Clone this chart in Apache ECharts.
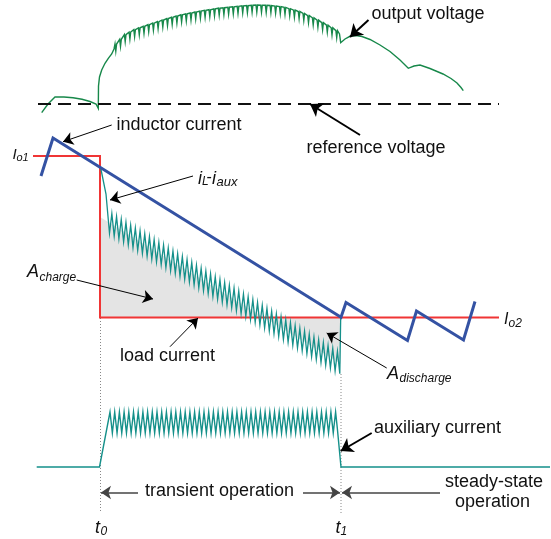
<!DOCTYPE html>
<html>
<head>
<meta charset="utf-8">
<script src="https://cdn.jsdelivr.net/npm/echarts/dist/echarts.min.js"></script>
<style>
html,body{margin:0;padding:0;background:#fff;}
#c{width:551px;height:539px;}
</style>
</head>
<body>
<div id="c"></div>
<script>
// ---- signal data (schematic units) ----
const outputVoltage = [
  [41.7,112.7],[48,104],[55,97],[64,97],[73,97.8],[82,99.3],[90,101.5],[96,104],[98.3,108.5],
  [98.5,86],[99.5,77],[101.7,70],[105,63.3],[108.3,58.3],[111.7,54],[114,49],
  [115,44],[115.8,51],[116.6,44],
  [119.7,39.3],[120.5,46.3],[121.3,39.3],
  [124.4,34.6],[125.2,41.6],[126.0,34.6],
  [129.1,32.0],[129.9,39.0],[130.7,32.0],
  [133.8,29.6],[134.6,36.6],[135.4,29.6],
  [138.5,27.8],[139.3,34.8],[140.1,27.8],
  [143.2,26.3],[144.0,33.3],[144.8,26.3],
  [147.9,24.7],[148.7,31.7],[149.5,24.7],
  [152.6,23.1],[153.4,30.1],[154.2,23.1],
  [157.3,21.6],[158.1,28.6],[158.9,21.6],
  [162.0,20.0],[162.8,27.0],[163.6,20.0],
  [166.7,18.5],[167.5,25.5],[168.3,18.5],
  [171.4,17.3],[172.2,24.3],[173.0,17.3],
  [176.1,16.0],[176.9,23.0],[177.7,16.0],
  [180.8,14.8],[181.6,21.8],[182.4,14.8],
  [185.5,13.9],[186.3,20.9],[187.1,13.9],
  [190.2,13.0],[191.0,20.0],[191.8,13.0],
  [194.9,12.0],[195.7,19.0],[196.5,12.0],
  [199.6,11.1],[200.4,18.1],[201.2,11.1],
  [204.3,10.4],[205.1,17.4],[205.9,10.4],
  [209.0,9.7],[209.8,16.7],[210.6,9.7],
  [213.7,8.9],[214.5,15.9],[215.3,8.9],
  [218.4,8.2],[219.2,15.2],[220.0,8.2],
  [223.1,7.7],[223.9,14.7],[224.7,7.7],
  [227.8,7.2],[228.6,14.2],[229.4,7.2],
  [232.5,6.8],[233.3,13.8],[234.1,6.8],
  [237.2,6.3],[238.0,13.3],[238.8,6.3],
  [241.9,5.9],[242.7,12.9],[243.5,5.9],
  [246.6,5.6],[247.4,12.6],[248.2,5.6],
  [251.3,5.2],[252.1,12.2],[252.9,5.2],
  [256.0,5.0],[256.8,12.0],[257.6,5.0],
  [260.7,5.2],[261.5,12.2],[262.3,5.2],
  [265.4,5.3],[266.2,12.3],[267.0,5.3],
  [270.1,5.5],[270.9,12.5],[271.7,5.5],
  [274.8,6.1],[275.6,13.1],[276.4,6.1],
  [279.5,6.6],[280.3,13.6],[281.1,6.6],
  [284.2,7.4],[285.0,14.4],[285.8,7.4],
  [288.9,8.7],[289.7,15.7],[290.5,8.7],
  [293.6,10.1],[294.4,17.1],[295.2,10.1],
  [298.3,11.5],[299.1,18.5],[299.9,11.5],
  [303.0,13.4],[303.8,20.4],[304.6,13.4],
  [307.7,15.6],[308.5,22.6],[309.3,15.6],
  [312.4,17.8],[313.2,24.8],[314.0,17.8],
  [317.1,20.1],[317.9,27.1],[318.7,20.1],
  [321.8,22.6],[322.6,29.6],[323.4,22.6],
  [326.5,25.1],[327.3,32.1],[328.1,25.1],
  [331.2,27.8],[332.0,34.8],[332.8,27.8],
  [335.9,30.7],[336.7,37.7],[337.5,30.7],
  [339.5,34],[340.7,42.7],
  [345,39],[350,36.3],[356,35.5],[362,36.5],[370,39.5],[380,45],[390,51.5],[400,60],
  [408.3,68.3],[414,66],[420,65],[430,68.5],[443,74],[451,78.5],[457,83],[461,87.5],[463.3,90.7]
];
const referenceVoltage = [[38,104],[499,104]];
const inductorCurrent = [[41,176],[53,138],[341,317.3],[346,302.5],[407.5,340.5],[416.5,311],[463.5,340],[475,301.5]];
const loadCurrent = [[33,156],[100,156],[100,317.5],[499,317.5]];
const iLminusAux = [
  [100.5,167],[106,194],
  [109.5,233.3],[111.85,213.7],[114.2,236.2],[116.55,216.6],[118.9,239.0],[121.25,219.4],
  [123.6,241.9],[125.95,222.3],[128.3,244.8],[130.65,225.2],[133.0,247.6],[135.35,228.0],
  [137.7,250.5],[140.05,230.9],[142.4,253.4],[144.75,233.8],[147.1,256.2],[149.45,236.6],
  [151.8,259.1],[154.15,239.5],[156.5,262.0],[158.85,242.4],[161.2,264.8],[163.55,245.2],
  [165.9,267.7],[168.25,248.1],[170.6,270.6],[172.95,251.0],[175.3,273.4],[177.65,253.8],
  [180.0,276.3],[182.35,256.7],[184.7,279.2],[187.05,259.6],[189.4,282.0],[191.75,262.4],
  [194.1,284.9],[196.45,265.3],[198.8,287.8],[201.15,268.2],[203.5,290.6],[205.85,271.0],
  [208.2,293.5],[210.55,273.9],[212.9,296.4],[215.25,276.8],[217.6,299.2],[219.95,279.6],
  [222.3,302.1],[224.65,282.5],[227.0,305.0],[229.35,285.4],[231.7,307.8],[234.05,288.2],
  [236.4,310.7],[238.75,291.1],[241.1,313.6],[243.45,294.0],[245.8,316.4],[248.15,296.8],
  [250.5,319.3],[252.85,299.7],[255.2,322.2],[257.55,302.6],[259.9,325.0],[262.25,305.4],
  [264.6,327.9],[266.95,308.3],[269.3,330.8],[271.65,311.2],[274.0,333.6],[276.35,314.0],
  [278.7,336.5],[281.05,316.9],[283.4,339.4],[285.75,319.8],[288.1,342.2],[290.45,322.6],
  [292.8,345.1],[295.15,325.5],[297.5,348.0],[299.85,328.4],[302.2,350.8],[304.55,331.2],
  [306.9,353.7],[309.25,334.1],[311.6,356.6],[313.95,337.0],[316.3,359.4],[318.65,339.8],
  [321.0,362.3],[323.35,342.7],[325.7,365.2],[328.05,345.6],[330.4,368.0],[332.75,348.4],
  [335.1,370.9],[337.45,351.3],[339.8,373.8],
  [340.7,317.5]
];
const auxCurrent = [
  [36.7,467],[99.5,467],
  [110,412],[112.35,433],[114.7,412],[117.05,433],[119.4,412],[121.75,433],[124.1,412],[126.45,433],
  [128.8,412],[131.15,433],[133.5,412],[135.85,433],[138.2,412],[140.55,433],[142.9,412],[145.25,433],
  [147.6,412],[149.95,433],[152.3,412],[154.65,433],[157,412],[159.35,433],[161.7,412],[164.05,433],
  [166.4,412],[168.75,433],[171.1,412],[173.45,433],[175.8,412],[178.15,433],[180.5,412],[182.85,433],
  [185.2,412],[187.55,433],[189.9,412],[192.25,433],[194.6,412],[196.95,433],[199.3,412],[201.65,433],
  [204,412],[206.35,433],[208.7,412],[211.05,433],[213.4,412],[215.75,433],[218.1,412],[220.45,433],
  [222.8,412],[225.15,433],[227.5,412],[229.85,433],[232.2,412],[234.55,433],[236.9,412],[239.25,433],
  [241.6,412],[243.95,433],[246.3,412],[248.65,433],[251,412],[253.35,433],[255.7,412],[258.05,433],
  [260.4,412],[262.75,433],[265.1,412],[267.45,433],[269.8,412],[272.15,433],[274.5,412],[276.85,433],
  [279.2,412],[281.55,433],[283.9,412],[286.25,433],[288.6,412],[290.95,433],[293.3,412],[295.65,433],
  [298,412],[300.35,433],[302.7,412],[305.05,433],[307.4,412],[309.75,433],[312.1,412],[314.45,433],
  [316.8,412],[319.15,433],[321.5,412],[323.85,433],[326.2,412],[328.55,433],[330.9,412],[333.25,433],
  [335.6,412],[337.3,428],[341,467],[550,467]
];
const chargeArea = [[100,217],[100,317.5],[264,317.5]];
const dischargeArea = [[264,317.5],[340.5,317.5],[340.5,363.5]];
const t0Marker = [[100.5,318],[100.5,512]];
const t1Marker = [[341,374],[341,515]];

// ---- annotation arrows [from, to] ----
const thickArrows = [
  [[368.5,20],[350,37]],
  [[360,135],[310,104]],
  [[371.7,433],[340.7,451]]
];
const thinArrows = [
  [[111.7,125],[63,141.7]],
  [[193,176],[110,200]],
  [[76.7,280],[153,299]],
  [[170,346.7],[198,318]],
  [[386.7,368],[326.7,333]]
];
const spanArrows = [
  [[138,492.5],[101,492.5]],
  [[303,492.5],[340,492.5]],
  [[440,492.5],[342,492.5]]
];

const FONT = '"Liberation Sans", Arial, Helvetica, sans-serif';
const texts = [
  ['output voltage',371.5,14.5,18,false],
  ['reference voltage',306.5,148,18,false],
  ['inductor current',116.5,125.5,18,false],
  ['load current',120,355.7,18,false],
  ['auxiliary current',374,428,18,false],
  ['transient operation',145,491,18,false],
  ['steady-state',445,482.5,18,false],
  ['operation',455,502,18,false],
  ['I',12.5,155,15,true],['o1',16.5,157.5,11,true],
  ['I',504,320,16,true],['o2',508.5,323.5,12,true],
  ['i',198,178.5,18,true],['L',202,182,12,true],['-',206.5,178,16,false],['i',212,178.5,18,true],['aux',216.5,182,13,true],
  ['A',27,272,18,true],['charge',39.5,278,12,true],
  ['A',387,373.5,18,true],['discharge',399.5,378.5,12,true],
  ['t',95,528,18,true],['0',100.5,532,12,true],
  ['t',335.5,528,18,true],['1',340.5,532,12,true]
];

const chart = echarts.init(document.getElementById('c'), null, {renderer:'canvas'});

function polySeries(pts){
  return {
    type:'custom', coordinateSystem:'cartesian2d', silent:true, z:1,
    data:[pts[0]],
    renderItem:function(params, api){
      return {type:'polygon', shape:{points:pts.map(p=>api.coord(p))}, style:{fill:'#e4e4e4'}};
    }
  };
}
function lineSeries(data, color, width, type, z){
  return {type:'line', data:data, symbol:'none', silent:true, z:z||3, animation:false,
    lineStyle:{color:color, width:width, type:type||'solid', cap:'butt', join:'miter'}};
}
function arrowSeries(list, color, width, size){
  return {type:'lines', coordinateSystem:'cartesian2d', silent:true, z:10, animation:false,
    symbol:['none','arrow'], symbolSize:size,
    lineStyle:{color:color, width:width, opacity:1, curveness:0},
    data:list.map(c=>({coords:c}))};
}

chart.setOption({
  animation:false,
  backgroundColor:'#fff',
  grid:{left:0,right:0,top:0,bottom:0},
  xAxis:{type:'value',min:0,max:551,show:false},
  yAxis:{type:'value',min:0,max:539,inverse:true,show:false},
  series:[
    polySeries(chargeArea),
    polySeries(dischargeArea),
    lineSeries(t0Marker,'#888',1,[1,2],2),
    lineSeries(t1Marker,'#888',1,[1,2],2),
    lineSeries(loadCurrent,'#f03535',2,'solid',3),
    lineSeries(iLminusAux,'#15908a',1.3,'solid',4),
    lineSeries(auxCurrent,'#15908a',1.4,'solid',4),
    lineSeries(inductorCurrent,'#3452a3',3,'solid',5),
    lineSeries(outputVoltage,'#17884a',1.4,'solid',5),
    lineSeries(referenceVoltage,'#111',2,[13,7],5),
    arrowSeries(thickArrows,'#000',2,12),
    arrowSeries(thinArrows,'#000',1,10),
    arrowSeries(spanArrows,'#444',1.5,10)
  ],
  graphic: texts.map(t=>({
    type:'text', x:t[1], y:t[2], silent:true, z:100,
    style:{text:t[0], fill:'#111',
      font:(t[4]?'italic ':'')+t[3]+'px '+FONT,
      textAlign:'left', textVerticalAlign:'middle', align:'left', verticalAlign:'middle'}
  }))
});
</script>
</body>
</html>
